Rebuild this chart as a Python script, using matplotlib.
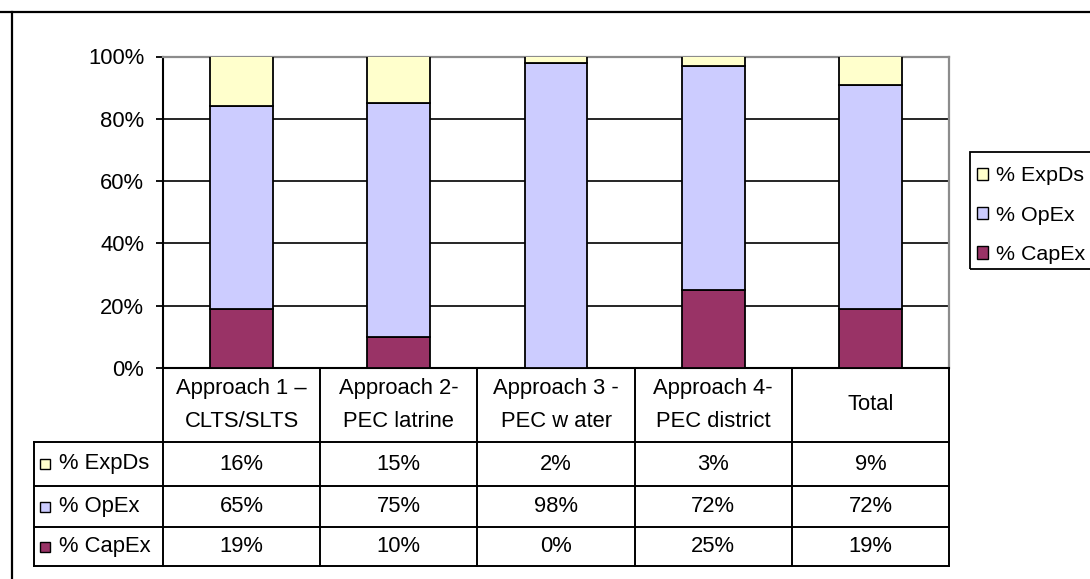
import matplotlib
matplotlib.use("Agg")
import matplotlib.pyplot as plt
from matplotlib.lines import Line2D
from matplotlib.patches import Patch, Rectangle
from matplotlib.ticker import MultipleLocator, PercentFormatter

# Cost breakdown per approach (percent of total cost)
categories = [
    "Approach 1 –\nCLTS/SLTS",
    "Approach 2-\nPEC latrine",
    "Approach 3 -\nPEC w ater",
    "Approach 4-\nPEC district",
    "Total",
]
capex = [19, 10, 0, 25, 19]
opex = [65, 75, 98, 72, 72]
expds = [16, 15, 2, 3, 9]

series_values = [capex, opex, expds]
series_labels = ["% CapEx", "% OpEx", "% ExpDs"]
series_colors = ["#993366", "#CCCCFF", "#FFFFCC"]

W, H = 1090, 579
plt.rcParams["font.family"] = ["Liberation Sans", "DejaVu Sans"]
FS = 15.8

fig = plt.figure(figsize=(W / 100, H / 100), dpi=100)


def fx(px):
    return px / W


def fy(py):
    return 1 - py / H


# plot area in pixel terms
PL, PR, PT, PB = 163, 949, 56.5, 368
ax = fig.add_axes([fx(PL), fy(PB), fx(PR - PL), (PB - PT) / H])

n = len(categories)
xs = list(range(n))
bottoms = [0] * n
for vals, color, lab in zip(series_values, series_colors, series_labels):
    ax.bar(xs, vals, width=0.4, bottom=bottoms, color=color,
           edgecolor="black", linewidth=1.3, label=lab, zorder=3)
    bottoms = [b + v for b, v in zip(bottoms, vals)]

ax.set_xlim(-0.5, n - 0.5)
ax.set_ylim(0, 100)
ax.yaxis.set_major_locator(MultipleLocator(20))
ax.yaxis.set_major_formatter(PercentFormatter(decimals=0))
ax.set_axisbelow(True)
ax.grid(axis="y", color="black", linewidth=1.2)
ax.set_xticks([])
ax.tick_params(axis="y", length=5, width=1.3, pad=8.5, labelsize=FS,
               colors="black")
ax.spines["left"].set_color("black")
ax.spines["left"].set_linewidth(1.5)
ax.spines["bottom"].set_color("black")
ax.spines["bottom"].set_linewidth(1.5)
for side in ("top", "right"):
    ax.spines[side].set_color("#8c8c8c")
    ax.spines[side].set_linewidth(1.6)


def line(x0, y0, x1, y1, lw=1.4, color="black"):
    fig.add_artist(Line2D([fx(x0), fx(x1)], [fy(y0), fy(y1)],
                          color=color, linewidth=lw, solid_capstyle="projecting"))


# data table under the plot
col_px = [ax.transData.transform((i - 0.5, 0))[0] for i in range(n + 1)]
row_px = [368, 442, 486, 527, 566]
TL = 34

for xp in col_px:
    line(xp, row_px[0], xp, row_px[-1])
line(TL, row_px[1], TL, row_px[-1])
for yp in row_px[1:]:
    line(TL, yp, col_px[-1], yp)

# header cells
for i, cat in enumerate(categories):
    cx = (col_px[i] + col_px[i + 1]) / 2
    fig.text(fx(cx), fy((row_px[0] + row_px[1]) / 2), cat, ha="center",
             va="center", fontsize=FS, linespacing=1.7)

# value rows, ordered top to bottom as ExpDs, OpEx, CapEx
table_rows = list(zip(series_labels, series_colors, series_values))[::-1]
for r, (lab, color, vals) in enumerate(table_rows):
    yc = (row_px[r + 1] + row_px[r + 2]) / 2
    fig.add_artist(Rectangle((fx(40), fy(yc + 5)), fx(10), 10 / H,
                             facecolor=color, edgecolor="black",
                             linewidth=1.0, transform=fig.transFigure))
    fig.text(fx(59), fy(yc), lab, ha="left", va="center", fontsize=FS)
    for i, v in enumerate(vals):
        cx = (col_px[i] + col_px[i + 1]) / 2
        fig.text(fx(cx), fy(yc), f"{v}%", ha="center", va="center",
                 fontsize=FS)

# legend: entries without frame, box drawn separately so it runs off the edge
handles = [Patch(facecolor=c, edgecolor="black", linewidth=1.0, label=l)
           for c, l in zip(series_colors, series_labels)][::-1]
leg = fig.legend(handles=handles, loc="upper left",
                 bbox_to_anchor=(fx(970), fy(159)), frameon=False,
                 borderaxespad=0, handlelength=0.5, handleheight=0.5,
                 handletextpad=0.35, labelspacing=0.95, borderpad=0.35,
                 fontsize=15.4)
fig.add_artist(Rectangle((fx(970), fy(269)), fx(150), (269 - 152) / H,
                         fill=False, edgecolor="black", linewidth=1.3,
                         transform=fig.transFigure))

# chart area frame
line(0, 12, W, 12, lw=1.6)
line(11.5, 12, 11.5, H, lw=1.6)

fig.savefig("out.png", dpi=100)
